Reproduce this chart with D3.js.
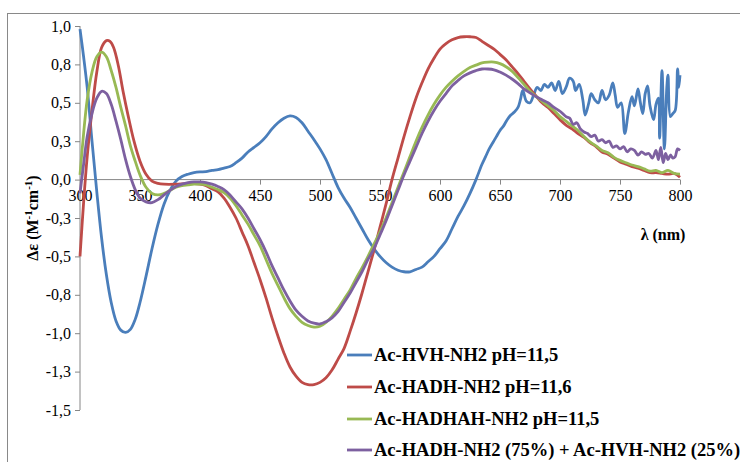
<!DOCTYPE html>
<html><head><meta charset="utf-8">
<script src="https://cdn.jsdelivr.net/npm/d3@7"></script>
<style>body{margin:0;background:#fff;}svg{display:block;} text{font-family:"Liberation Serif","Times New Roman","DejaVu Serif",serif;}</style>
</head><body>
<svg id="c" width="740" height="462"></svg>
<script>
// ---- data ----
const seriesNames = ["Ac-HVH-NH2 pH=11,5","Ac-HADH-NH2 pH=11,6","Ac-HADHAH-NH2 pH=11,5","Ac-HADH-NH2 (75%) + Ac-HVH-NH2 (25%)"];
const seriesColors = ["#4A7EBB","#BE4B48","#98B954","#7D60A0"];
const xTicks = [300,350,400,450,500,550,600,650,700,750,800];
const yTicks = [-1.5,-1.25,-1.0,-0.75,-0.5,-0.25,0,0.25,0.5,0.75,1.0];
const yTickLabels = ["-1,5","-1,3","-1,0","-0,8","-0,5","-0,3","0,0","0,3","0,5","0,8","1,0"];

const hvhL = [300,303,306,310,314,318,322,326,330,334,338,342,346,350,355,360,365,370,375,380,385,390,395,400,405,410,415,420,425,430,435,440,445,450,455,460,465,470,475,480,485,490,495,500,505,510,515,520,525,530,535,540,545,550,555,560,565,570,575,580,585,590,595,600,605,610,615,620,625,630,635,638,641,644,647,650,653,656,659,662,665,667,669,672,675,678,681,684,687,690,693,696,699,702,705,708,711,713,716,719,721,724,726,729,732,735,738,741,744,746,748,751,754,757,760,762,765,767,769,771,773,775,778,780,782,783,785,787,789,790,792,794,796,798,799,800];
const hvhV = [0.98,0.80,0.60,0.25,-0.08,-0.38,-0.62,-0.80,-0.92,-0.98,-0.995,-0.975,-0.91,-0.80,-0.63,-0.45,-0.29,-0.16,-0.07,-0.01,0.02,0.035,0.045,0.05,0.052,0.06,0.065,0.075,0.085,0.11,0.14,0.18,0.21,0.24,0.28,0.33,0.37,0.40,0.415,0.405,0.37,0.315,0.26,0.20,0.13,0.04,-0.05,-0.12,-0.18,-0.25,-0.32,-0.39,-0.45,-0.50,-0.54,-0.57,-0.59,-0.60,-0.60,-0.585,-0.57,-0.535,-0.50,-0.45,-0.40,-0.32,-0.24,-0.17,-0.09,0.00,0.10,0.15,0.20,0.24,0.28,0.32,0.35,0.39,0.42,0.44,0.47,0.52,0.58,0.51,0.50,0.55,0.60,0.58,0.62,0.60,0.63,0.58,0.64,0.56,0.60,0.66,0.64,0.58,0.62,0.52,0.42,0.50,0.56,0.52,0.50,0.58,0.52,0.55,0.63,0.55,0.47,0.50,0.30,0.44,0.54,0.48,0.59,0.50,0.43,0.56,0.61,0.48,0.39,0.49,0.53,0.27,0.71,0.20,0.60,0.68,0.41,0.43,0.45,0.72,0.60,0.68];

const hadhL = [300,303,306,310,314,318,322,325,328,332,336,340,345,350,355,360,365,370,380,390,400,405,410,415,420,425,430,435,440,445,450,455,460,465,470,475,480,485,490,495,500,505,510,515,520,525,530,535,540,545,550,555,560,565,570,575,580,585,590,595,600,605,610,615,620,625,630,635,640,645,650,655,660,665,670,675,680,685,690,695,700,705,710,715,720,725,730,735,740,745,750,755,760,765,770,775,780,785,790,795,800];
const hadhV = [-0.50,-0.15,0.15,0.45,0.70,0.86,0.905,0.90,0.86,0.74,0.57,0.42,0.25,0.12,0.035,-0.01,-0.025,-0.03,-0.03,-0.025,-0.03,-0.04,-0.06,-0.08,-0.12,-0.18,-0.25,-0.34,-0.43,-0.54,-0.65,-0.77,-0.90,-1.02,-1.13,-1.22,-1.28,-1.32,-1.335,-1.335,-1.32,-1.29,-1.24,-1.17,-1.10,-0.99,-0.87,-0.74,-0.60,-0.46,-0.31,-0.16,0.00,0.14,0.28,0.41,0.53,0.63,0.72,0.79,0.85,0.885,0.91,0.925,0.93,0.93,0.925,0.90,0.875,0.85,0.815,0.78,0.735,0.69,0.64,0.59,0.545,0.50,0.47,0.43,0.39,0.355,0.33,0.30,0.275,0.24,0.215,0.18,0.165,0.14,0.115,0.10,0.085,0.075,0.06,0.045,0.045,0.04,0.035,0.04,0.015];

const hadhahL = [300,303,306,310,314,318,322,326,330,334,338,342,346,350,355,360,365,370,375,380,385,390,395,400,405,410,415,420,425,430,435,440,445,450,455,460,465,470,475,480,485,490,495,500,505,510,515,520,525,530,535,540,545,550,555,560,565,570,575,580,585,590,595,600,605,610,615,620,625,630,635,640,645,650,655,660,665,670,675,680,685,690,695,700,705,710,715,720,725,730,735,740,745,750,755,760,765,770,775,780,785,790,795,800];
const hadhahV = [0.03,0.30,0.52,0.70,0.80,0.83,0.80,0.71,0.60,0.47,0.35,0.22,0.12,0.03,-0.05,-0.09,-0.10,-0.09,-0.07,-0.05,-0.04,-0.035,-0.03,-0.03,-0.035,-0.05,-0.065,-0.085,-0.12,-0.17,-0.23,-0.29,-0.36,-0.43,-0.52,-0.61,-0.69,-0.77,-0.84,-0.89,-0.93,-0.95,-0.96,-0.955,-0.93,-0.89,-0.84,-0.78,-0.72,-0.645,-0.575,-0.50,-0.42,-0.34,-0.25,-0.15,-0.05,0.05,0.15,0.25,0.34,0.42,0.49,0.55,0.60,0.64,0.675,0.705,0.73,0.745,0.76,0.765,0.765,0.755,0.735,0.705,0.665,0.62,0.575,0.54,0.51,0.48,0.45,0.41,0.38,0.35,0.32,0.28,0.245,0.22,0.19,0.175,0.145,0.125,0.11,0.095,0.085,0.07,0.055,0.06,0.045,0.06,0.04,0.035];

const mixL = [300,303,306,310,314,318,322,326,330,334,338,342,346,350,355,360,365,370,375,380,385,390,395,400,405,410,415,420,425,430,435,440,445,450,455,460,465,470,475,480,485,490,495,500,505,510,515,520,525,530,535,540,545,550,555,560,565,570,575,580,585,590,595,600,605,610,615,620,625,630,635,640,645,650,655,660,665,670,675,680,685,690,695,700,705,708,711,714,717,720,723,726,729,732,735,738,741,744,747,750,753,756,759,762,765,768,771,774,777,780,782,784,786,788,790,792,794,796,798,800];
const mixV = [-0.09,0.10,0.28,0.43,0.53,0.575,0.56,0.49,0.38,0.26,0.13,0.02,-0.065,-0.12,-0.145,-0.15,-0.13,-0.10,-0.07,-0.045,-0.03,-0.02,-0.015,-0.015,-0.02,-0.03,-0.045,-0.065,-0.10,-0.145,-0.19,-0.25,-0.32,-0.39,-0.47,-0.56,-0.64,-0.72,-0.79,-0.85,-0.89,-0.92,-0.935,-0.94,-0.925,-0.90,-0.86,-0.80,-0.74,-0.67,-0.60,-0.52,-0.45,-0.36,-0.27,-0.17,-0.07,0.03,0.12,0.21,0.30,0.38,0.45,0.51,0.56,0.61,0.645,0.675,0.695,0.71,0.72,0.72,0.715,0.70,0.68,0.655,0.625,0.59,0.565,0.54,0.52,0.50,0.47,0.445,0.41,0.40,0.36,0.37,0.33,0.31,0.30,0.28,0.29,0.25,0.26,0.24,0.25,0.21,0.22,0.20,0.215,0.18,0.20,0.19,0.16,0.18,0.165,0.17,0.14,0.19,0.13,0.21,0.11,0.17,0.13,0.16,0.14,0.15,0.20,0.19];

const seriesL = [hvhL, hadhL, hadhahL, mixL];
const seriesV = [hvhV, hadhV, hadhahV, mixV];

// ---- chart ----
const svg = d3.select("#c");
const axisColor = "#868686";

svg.append("rect").attr("x",7.5).attr("y",13.5).attr("width",760).attr("height",460)
  .attr("fill","none").attr("stroke","#898989").attr("stroke-width",1);

const x = d3.scaleLinear().domain([300,800]).range([80,680]);
const y = d3.scaleLinear().domain([-1.5,1.0]).range([410,26]);

// y axis
const yAxis = d3.axisLeft(y).tickValues(yTicks).tickSize(5).tickPadding(4)
  .tickFormat((d,i)=>yTickLabels[i]);
const gy = svg.append("g").attr("transform","translate(80,0)").call(yAxis);
gy.attr("font-family",null).attr("font-size",null);
gy.select(".domain").attr("stroke",axisColor).attr("d","M0,26V410");
gy.selectAll(".tick line").attr("stroke",axisColor);
gy.selectAll(".tick text").style("font-size","16px").attr("fill","#000");

// x axis at zero
const xAxis = d3.axisBottom(x).tickValues(xTicks).tickSize(5).tickPadding(5).tickFormat(d=>String(d));
const gx = svg.append("g").attr("transform",`translate(0,${y(0)})`).call(xAxis);
gx.attr("font-family",null).attr("font-size",null);
gx.select(".domain").attr("stroke",axisColor).attr("d","M80,0H680");
gx.selectAll(".tick line").attr("stroke",axisColor);
gx.selectAll(".tick text").style("font-size","16px").attr("fill","#000");

// lines
const line = d3.line().x(d=>x(d[0])).y(d=>y(d[1])).curve(d3.curveCatmullRom.alpha(0.5));
seriesL.forEach((L,i)=>{
  const pts = L.map((l,j)=>[l, seriesV[i][j]]);
  svg.append("path").datum(pts).attr("d",line).attr("fill","none")
    .attr("stroke",seriesColors[i]).attr("stroke-width",2.8).attr("stroke-linejoin","round");
});

// axis titles
svg.append("text").attr("x",663).attr("y",240).attr("text-anchor","middle")
  .style("font-weight","bold").style("font-size","16px").text("λ (nm)");

const yt = svg.append("text").attr("transform","translate(38,218) rotate(-90)").attr("text-anchor","middle")
  .style("font-weight","bold").style("font-size","16px");
yt.append("tspan").text("Δε (M");
yt.append("tspan").style("font-size","11px").attr("dy",-6).text("-1");
yt.append("tspan").attr("dy",6).text("cm");
yt.append("tspan").style("font-size","11px").attr("dy",-6).text("-1");
yt.append("tspan").attr("dy",6).text(")");

// legend
const legY = [355,387,419,450];
seriesNames.forEach((n,i)=>{
  svg.append("line").attr("x1",347).attr("x2",372).attr("y1",legY[i]).attr("y2",legY[i])
    .attr("stroke",seriesColors[i]).attr("stroke-width",2.8);
  svg.append("text").attr("x",374).attr("y",legY[i]).attr("dy","0.35em")
    .style("font-weight","bold").style("font-size","18.5px").text(n);
});
</script>
</body></html>
